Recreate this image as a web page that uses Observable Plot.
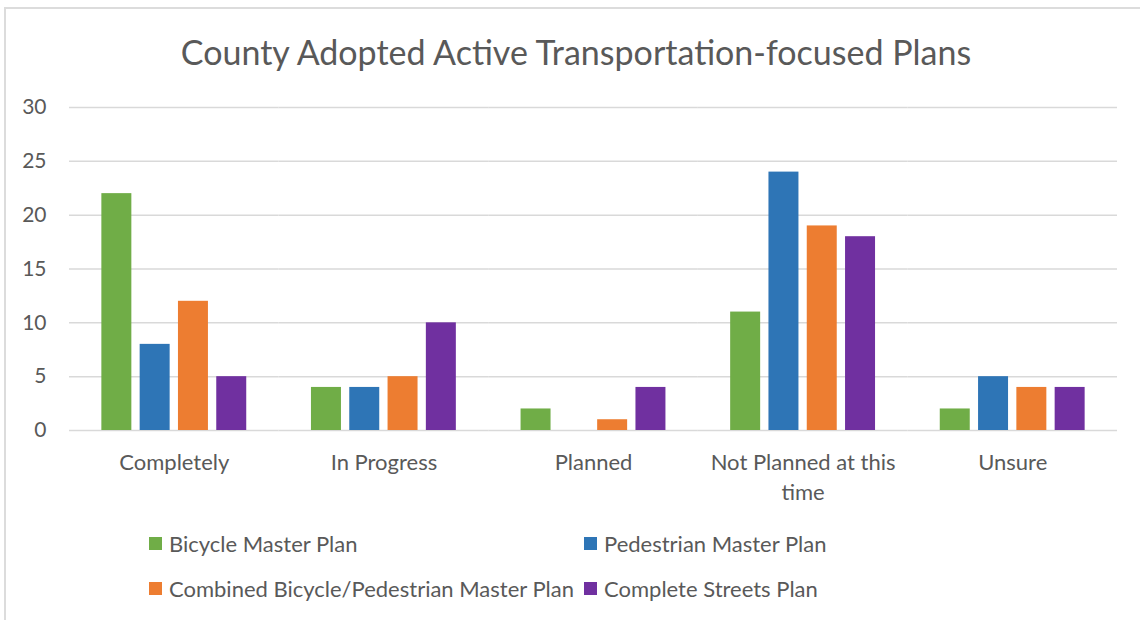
<!DOCTYPE html>
<html>
<head>
<meta charset="utf-8">
<script src="https://cdn.jsdelivr.net/npm/d3@7"></script>
<script src="https://cdn.jsdelivr.net/npm/@observablehq/plot@0.6"></script>
<style>
  html, body { margin: 0; padding: 0; background: #fff; }
  #wrap { position: relative; width: 1140px; height: 620px; overflow: hidden; font-family: Lato, "Open Sans", sans-serif; color: #595959; }
  #frame { position: absolute; left: 4px; top: 7px; width: 1200px; height: 700px; border-left: 2px solid #dcdcdc; border-top: 2px solid #dcdcdc; }
  #title { position: absolute; left: 0; width: 1152px; top: 31px; line-height: 42px; text-align: center; font-size: 34px; white-space: nowrap; }
  #chart { position: absolute; left: 0; top: 0; }
  #legend { position: absolute; left: 149px; top: 521px; display: grid; grid-template-columns: 435px 435px; grid-auto-rows: 45px; font-size: 22px; }
  .item { display: flex; align-items: center; white-space: nowrap; }
  .sw { width: 13px; height: 13px; margin-right: 7px; flex: none; }
</style>
</head>
<body>
<div id="wrap">
  <div id="frame"></div>
  <div id="chart"></div>
  <div id="title"></div>
  <div id="legend"></div>
</div>
<script>
const titleText = "County Adopted Active Transportation-focused Plans";
const categories = ["Completely", "In Progress", "Planned", "Not Planned at this time", "Unsure"];
const series = ["Bicycle Master Plan", "Pedestrian Master Plan", "Combined Bicycle/Pedestrian Master Plan", "Complete Streets Plan"];
const bicycle = [22, 4, 2, 11, 2];
const pedestrian = [8, 4, 0, 24, 5];
const combined = [12, 5, 1, 19, 4];
const completeStreets = [5, 10, 4, 18, 4];
const colors = ["#70AD47", "#2E75B6", "#ED7D31", "#7030A0"];
const yTicks = [0, 5, 10, 15, 20, 25, 30];

const seriesValues = [bicycle, pedestrian, combined, completeStreets];
const data = categories.flatMap((c, i) =>
  series.map((s, j) => ({category: c, series: s, value: seriesValues[j][i]}))
);

const wrapLabel = d => d === "Not Planned at this time" ? "Not Planned at this\ntime" : d;

const chart = Plot.plot({
  width: 1140,
  height: 510,
  marginTop: 107,
  marginBottom: 80,
  marginLeft: 69,
  marginRight: 23,
  style: {fontFamily: "Lato, 'Open Sans', sans-serif", fontSize: "21px", color: "#595959", background: "transparent", overflow: "visible"},
  fx: {domain: categories, padding: 0, label: null, round: false, axis: null},
  x: {domain: series, paddingInner: 0.217, paddingOuter: 0.845, axis: null, round: false},
  y: {domain: [0, 30], label: null},
  color: {domain: series, range: colors},
  marks: [
    Plot.gridY(yTicks, {stroke: "#d9d9d9", strokeOpacity: 1, strokeWidth: 1.5}),
    Plot.axisY(yTicks, {tickSize: 0, tickPadding: 23, label: null, fontSize: 21, fill: "#595959"}),
    Plot.axisFx({anchor: "bottom", tickSize: 0, tickPadding: 18, label: null, fontSize: 22, lineHeight: 1.36, fill: "#595959", tickFormat: wrapLabel}),
    Plot.barY(data, {fx: "category", x: "series", y: "value", fill: "series"})
  ]
});
document.getElementById("chart").appendChild(chart);
document.getElementById("title").textContent = titleText;

const legend = d3.select("#legend");
series.forEach((s, i) => {
  const item = legend.append("div").attr("class", "item");
  item.append("div").attr("class", "sw").style("background", colors[i]);
  item.append("span").text(s);
});
</script>
</body>
</html>
